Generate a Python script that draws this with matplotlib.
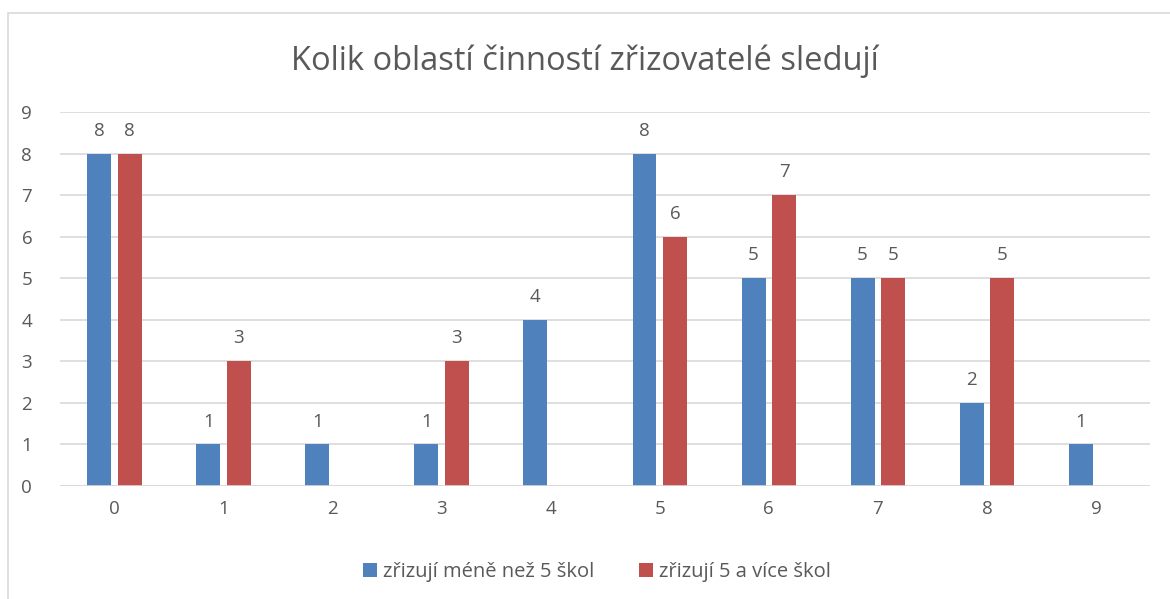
import matplotlib.pyplot as plt
import numpy as np
from matplotlib.patches import Rectangle

plt.rcParams['font.family'] = ['Open Sans', 'DejaVu Sans']

kategorie = ["0", "1", "2", "3", "4", "5", "6", "7", "8", "9"]
mene_nez_5 = [8, 1, 1, 1, 4, 8, 5, 5, 2, 1]
pet_a_vice = [8, 3, None, 3, None, 6, 7, 5, 5, None]
serie_nazvy = ["zřizují méně než 5 škol", "zřizují 5 a více škol"]
barvy = ["#4F81BD", "#C0504D"]
text_barva = "#595959"

fig = plt.figure(figsize=(11.7, 5.99), dpi=100)
ax = fig.add_axes([0.0513, 0.1886, 0.932, 0.6244])

x = np.arange(len(kategorie))
w = 0.22
off = 0.14
for hodnoty, posun, barva, nazev in zip([mene_nez_5, pet_a_vice], [-off, off], barvy, serie_nazvy):
    xs = [xi + posun for xi, v in zip(x, hodnoty) if v is not None]
    vs = [v for v in hodnoty if v is not None]
    bars = ax.bar(xs, vs, width=w, color=barva, label=nazev, zorder=3)
    ax.bar_label(bars, padding=10, fontsize=13.5, color=text_barva)

ax.set_xlim(-0.5, len(kategorie) - 0.5)
ax.set_ylim(0, 9)
ax.set_yticks(range(0, 10))
ax.set_xticks(x, kategorie)
ax.grid(axis='y', color="#D9D9D9", linewidth=1.2, zorder=0)
for s in ax.spines.values():
    s.set_visible(False)
ax.axhline(0, color="#D9D9D9", linewidth=1.2, zorder=4)
ax.tick_params(length=0, labelsize=13.5, labelcolor=text_barva)
ax.tick_params(axis='y', pad=20)
ax.tick_params(axis='x', pad=10)

fig.suptitle("Kolik oblastí činností zřizovatelé sledují", y=0.925, fontsize=23.5, color=text_barva)

fig.legend(loc='center', bbox_to_anchor=(0.51, 0.045), ncol=2, frameon=False,
           fontsize=14.5, labelcolor=text_barva, handlelength=0.7, handleheight=0.7,
           handletextpad=0.3, columnspacing=2.2)

# chart border
fig.add_artist(Rectangle((0.007, -0.1), 1.2, 1.078, transform=fig.transFigure,
                         fill=False, edgecolor="#D9D9D9", linewidth=1.2))

fig.savefig("out.png", dpi=100)
